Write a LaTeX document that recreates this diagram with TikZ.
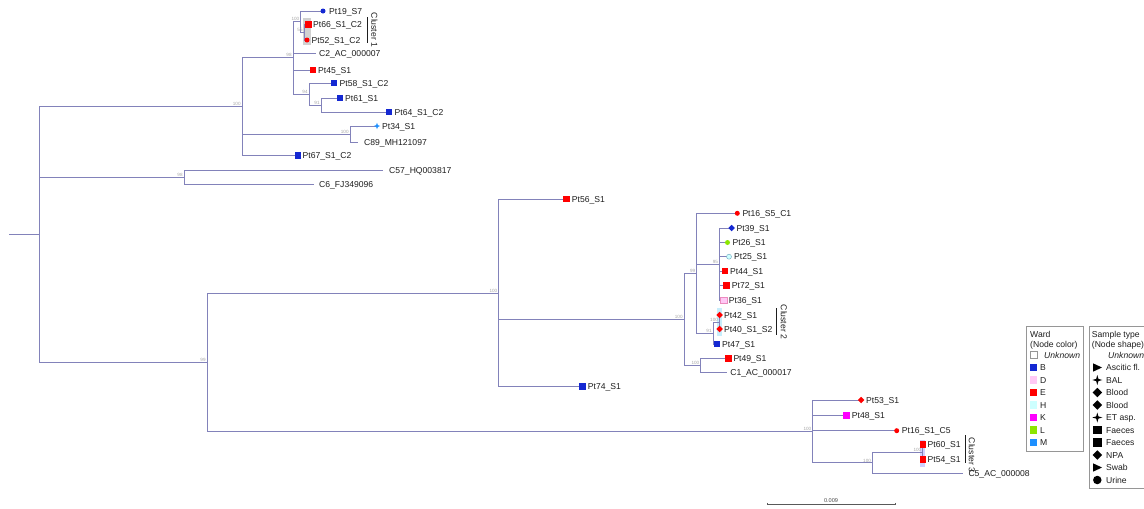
\documentclass[tikz,border=0pt]{standalone}
\usepackage{fontspec}
\setmainfont{Liberation Sans}
\usetikzlibrary{shapes.geometric}
\definecolor{brc}{RGB}{130,130,186}
\definecolor{txc}{RGB}{30,30,30}
\definecolor{bsc}{RGB}{165,165,165}
\definecolor{wB}{RGB}{20,40,210}
\definecolor{wD}{RGB}{255,200,245}
\definecolor{wE}{RGB}{255,0,0}
\definecolor{wH}{RGB}{205,255,255}
\definecolor{wK}{RGB}{255,0,255}
\definecolor{wL}{RGB}{140,230,0}
\definecolor{wM}{RGB}{30,144,255}
\definecolor{legc}{RGB}{150,150,150}
\newcommand\tipfont{\fontsize{8.6}{10}\selectfont}
\newcommand\bsfont{\fontsize{4.6}{5}\selectfont}
\newcommand\tipm[5]{\node[#2,fill=#3] (m#1) at (#1) {};\node[tip,xshift=#5] (l#1) at (#1) {#4};}
\newcommand\tipl[3]{\node[tip,xshift=#3] (l#1) at (#1) {#2};}
\newcommand\bsl[2]{\node[bs] (b#1) at (#1) {#2};}
\tikzset{
  brl/.style={draw=brc,line width=0.95pt},
  tip/.style={anchor=base west,inner sep=0,yshift=-3.1pt,font=\tipfont,text=txc},
  bs/.style={anchor=south east,inner sep=0.4pt,xshift=-0.8pt,font=\bsfont,text=bsc},
  mk/.style={inner sep=0,outer sep=0,draw=none},
  msq/.style={mk,rectangle,minimum size=6.5pt},
  mci/.style={mk,circle,minimum size=5pt},
  mdi/.style={mk,diamond,minimum size=6.5pt},
  mst/.style={mk,star,star points=4,star point ratio=2.6,minimum size=6.5pt},
  legt/.style={anchor=base west,inner sep=0,yshift=-3.1pt,font=\tipfont,text=txc},
  legbox/.style={draw=legc,line width=0.6pt},
  cbar/.style={draw=txc,line width=0.7pt},
  clab/.style={rotate=-90,inner sep=0,font=\tipfont,text=txc},
}
\begin{document}
\begin{tikzpicture}[x=1pt,y=-1pt]
\useasboundingbox (0,0) rectangle (1144,509);
\clip (0,0) rectangle (1144,509);
% highlight boxes
\fill[black!18] (302.7,18) rectangle (310.7,45);
\fill[cyan!22] (716.7,307.7) rectangle (721.7,336);
\fill[blue!18] (920,440) rectangle (925.3,466.7);
% coordinates
\coordinate (r0) at (9,234.5);
\coordinate (n0) at (39,234.5);
\coordinate (nA) at (242,106.5);
\coordinate (n98) at (293,57.5);
\coordinate (n100a) at (300.7,21.5);
\coordinate (n5) at (304,32);
\coordinate (tPt19) at (323,11);
\coordinate (tPt66) at (308.5,24.5);
\coordinate (tPt52) at (307,40);
\coordinate (tC2) at (316,53.5);
\coordinate (tPt45) at (313,70);
\coordinate (n94) at (309,94);
\coordinate (tPt58) at (334,83);
\coordinate (n91a) at (321,105);
\coordinate (tPt61) at (340,98);
\coordinate (tPt64) at (389,112);
\coordinate (n100g) at (350,134);
\coordinate (tPt34) at (377,126);
\coordinate (tC89) at (358,142);
\coordinate (tPt67) at (298,155.5);
\coordinate (nCD) at (184,177.5);
\coordinate (tC57) at (383,170);
\coordinate (tC6) at (314,184.3);
\coordinate (nB) at (207,362.5);
\coordinate (n100b) at (498.7,293);
\coordinate (tPt56) at (566.7,199);
\coordinate (n100c) at (684,319.5);
\coordinate (n99) at (696.7,273.3);
\coordinate (tPt16a) at (737.3,213.3);
\coordinate (n95) at (719.3,264);
\coordinate (tPt39) at (731.5,228);
\coordinate (tPt26) at (727.5,242.5);
\coordinate (tPt25) at (729,256.7);
\coordinate (tPt44) at (725,271);
\coordinate (tPt72) at (726.7,285.7);
\coordinate (tPt36) at (723.7,300);
\coordinate (n91b) at (713,333);
\coordinate (n100h) at (719.3,322);
\coordinate (tPt42) at (719.5,315);
\coordinate (tPt40) at (719.5,329);
\coordinate (tPt47) at (717,344);
\coordinate (n100d) at (700.7,365.5);
\coordinate (tPt49) at (728.3,358.3);
\coordinate (tC1) at (726.7,372.7);
\coordinate (tPt74) at (582.7,386.7);
\coordinate (n813) at (812.7,431.5);
\coordinate (tPt53) at (861,400);
\coordinate (tPt48) at (846.7,415.7);
\coordinate (tPt16b) at (896.7,430.7);
\coordinate (n100e) at (872.3,462.8);
\coordinate (n100f) at (922.7,452);
\coordinate (tPt60) at (923,444.3);
\coordinate (tPt54) at (923,459.3);
\coordinate (tC5) at (963.3,473.3);
% branches
\draw[brl] (r0) -- (n0);
\foreach \p/\c in {n0/nA,n0/nCD,n0/nB,
  nA/n98,nA/n100g,nA/tPt67,
  n98/n100a,n98/tC2,n98/tPt45,n98/n94,
  n100a/tPt19,n100a/n5,n5/tPt66,n5/tPt52,
  n94/tPt58,n94/n91a,n91a/tPt61,n91a/tPt64,
  n100g/tPt34,n100g/tC89,nCD/tC57,nCD/tC6,
  nB/n100b,nB/n813,
  n100b/tPt56,n100b/n100c,n100b/tPt74,
  n100c/n99,n100c/n100d,
  n99/tPt16a,n99/n95,n99/n91b,
  n95/tPt39,n95/tPt26,n95/tPt25,n95/tPt44,n95/tPt72,n95/tPt36,
  n91b/n100h,n91b/tPt47,n100h/tPt42,n100h/tPt40,
  n100d/tPt49,n100d/tC1,
  n813/tPt53,n813/tPt48,n813/tPt16b,n813/n100e,
  n100e/n100f,n100e/tC5,n100f/tPt60,n100f/tPt54}
  {\draw[brl] (\p) |- (\c);}
% bootstrap labels
\bsl{nA}{100}\bsl{n98}{98}\bsl{n100a}{100}\bsl{n5}{55}
\bsl{n94}{94}\bsl{n91a}{91}\bsl{n100g}{100}\bsl{nCD}{98}\bsl{nB}{99}
\bsl{n100b}{100}\bsl{n100c}{100}\bsl{n99}{99}\bsl{n95}{95}\bsl{n91b}{91}
\bsl{n100h}{100}\bsl{n100d}{100}\bsl{n813}{100}\bsl{n100e}{100}\bsl{n100f}{100}
% tips
\tipm{tPt19}{mci}{wB}{Pt19\_S7}{6pt}
\tipm{tPt66}{msq}{wE}{Pt66\_S1\_C2}{4.5pt}
\tipm{tPt52}{mci}{wE}{Pt52\_S1\_C2}{4.5pt}
\tipl{tC2}{C2\_AC\_000007}{3pt}
\tipm{tPt45}{msq}{wE}{Pt45\_S1}{5pt}
\tipm{tPt58}{msq}{wB}{Pt58\_S1\_C2}{5.5pt}
\tipm{tPt61}{msq}{wB}{Pt61\_S1}{5pt}
\tipm{tPt64}{msq}{wB}{Pt64\_S1\_C2}{5.5pt}
\tipm{tPt34}{mst}{wM}{Pt34\_S1}{5pt}
\tipl{tC89}{C89\_MH121097}{6pt}
\tipm{tPt67}{msq}{wB}{Pt67\_S1\_C2}{4.5pt}
\tipl{tC57}{C57\_HQ003817}{6pt}
\tipl{tC6}{C6\_FJ349096}{5pt}
\tipm{tPt56}{msq}{wE}{Pt56\_S1}{5pt}
\tipm{tPt16a}{mci}{wE}{Pt16\_S5\_C1}{5pt}
\tipm{tPt39}{mdi}{wB}{Pt39\_S1}{5pt}
\tipm{tPt26}{mci}{wL}{Pt26\_S1}{5pt}
\node[mci,fill=wH,draw=cyan!45!gray,line width=0.4pt] (mtPt25) at (tPt25) {};
\node[tip,xshift=5pt] (ltPt25) at (tPt25) {Pt25\_S1};
\tipm{tPt44}{msq}{wE}{Pt44\_S1}{5pt}
\tipm{tPt72}{msq}{wE}{Pt72\_S1}{5pt}
\node[msq,fill=wD,draw=wD!70!purple,line width=0.3pt] (mtPt36) at (tPt36) {};
\node[tip,xshift=5pt] (ltPt36) at (tPt36) {Pt36\_S1};
\tipm{tPt42}{mdi}{wE}{Pt42\_S1}{4.5pt}
\tipm{tPt40}{mdi}{wE}{Pt40\_S1\_S2}{4.5pt}
\tipm{tPt47}{msq}{wB}{Pt47\_S1}{5pt}
\tipm{tPt49}{msq}{wE}{Pt49\_S1}{5pt}
\tipl{tC1}{C1\_AC\_000017}{3.5pt}
\tipm{tPt74}{msq}{wB}{Pt74\_S1}{5pt}
\tipm{tPt53}{mdi}{wE}{Pt53\_S1}{5pt}
\tipm{tPt48}{msq}{wK}{Pt48\_S1}{5pt}
\tipm{tPt16b}{mci}{wE}{Pt16\_S1\_C5}{5pt}
\tipm{tPt60}{msq}{wE}{Pt60\_S1}{4.5pt}
\tipm{tPt54}{msq}{wE}{Pt54\_S1}{4.5pt}
\tipl{tC5}{C5\_AC\_000008}{5pt}
% cluster marks
\coordinate (c1a) at (367,17); \coordinate (c1b) at (367,43);
\draw[cbar] (c1a) -- (c1b);
\node[clab] (cl1) at (374.5,30) {Cluster 1};
\coordinate (c2a) at (776.7,308); \coordinate (c2b) at (776.7,335);
\draw[cbar] (c2a) -- (c2b);
\node[clab] (cl2) at (784,322) {Cluster 2};
\coordinate (c3a) at (965,435); \coordinate (c3b) at (965,463.3);
\draw[cbar] (c3a) -- (c3b);
\node[clab] (cl3) at (972,455) {Cluster 3};
% scale bar
\coordinate (sa) at (767.7,504); \coordinate (sb) at (895,504);
\draw[draw=black!65,line width=0.6pt] (sa) -- (sb);
\draw[draw=black!65,line width=0.5pt] ([yshift=1.2pt]sa) -- ([yshift=-1.2pt]sa);
\draw[draw=black!65,line width=0.5pt] ([yshift=1.2pt]sb) -- ([yshift=-1.2pt]sb);
\node[anchor=south,inner sep=0.5pt,font=\fontsize{5.6}{6}\selectfont,text=black!70] (slab) at (831,503.5) {0.009};
% legend: ward
\draw[legbox] (1026.7,326.7) rectangle (1083.3,451.7);
\node[legt] (w0) at (1030,334) {Ward};
\node[legt] (w1) at (1030,344.5) {(Node color)};
\node[mk,rectangle,minimum size=7pt,fill=white,draw=legc,line width=0.4pt] (ws0) at (1033.6,355) {};
\node[legt] (wt0) at (1044,355) {\itshape Unknown};
\foreach \c/\t [count=\i] in {wB/B,wD/D,wE/E,wH/H,wK/K,wL/L,wM/M}{
  \node[mk,rectangle,minimum size=7.3pt,fill=\c] (ws\i) at (1033.6,355+12.5*\i) {};
  \node[legt] (wt\i) at (1040,355+12.5*\i) {\t};
}
% legend: sample type
\draw[legbox] (1089.3,326.7) rectangle (1150,488.3);
\node[legt] (s0) at (1091.7,334) {Sample type};
\node[legt] (s1) at (1091.7,344.5) {(Node shape)};
\node[legt] (st0) at (1108,355) {\itshape Unknown};
\fill[black] (1093,363.3) -- (1102,367.5) -- (1093,371.7) -- cycle;
\node[legt] (st1) at (1106,367.5) {Ascitic fl.};
\node[mk,star,star points=4,star point ratio=3.2,minimum size=10pt,fill=black] (ss2) at (1097.3,380) {};
\node[legt] (st2) at (1106,380) {BAL};
\node[mk,diamond,minimum size=9.5pt,fill=black] (ss3) at (1097.3,392.5) {};
\node[legt] (st3) at (1106,392.5) {Blood};
\node[mk,diamond,minimum size=9.5pt,fill=black] (ss4) at (1097.3,405) {};
\node[legt] (st4) at (1106,405) {Blood};
\node[mk,star,star points=4,star point ratio=3.2,minimum size=10pt,fill=black] (ss5) at (1097.3,417.5) {};
\node[legt] (st5) at (1106,417.5) {ET asp.};
\node[mk,rectangle,minimum size=8.5pt,fill=black] (ss6) at (1097.3,430) {};
\node[legt] (st6) at (1106,430) {Faeces};
\node[mk,rectangle,minimum size=8.5pt,fill=black] (ss7) at (1097.3,442.5) {};
\node[legt] (st7) at (1106,442.5) {Faeces};
\node[mk,diamond,minimum size=9.5pt,fill=black] (ss8) at (1097.3,455) {};
\node[legt] (st8) at (1106,455) {NPA};
\fill[black] (1093,463.3) -- (1102,467.5) -- (1093,471.7) -- cycle;
\node[legt] (st9) at (1106,467.5) {Swab};
\node[mk,circle,minimum size=8.5pt,fill=black] (ss10) at (1097.3,480) {};
\node[legt] (st10) at (1106,480) {Urine};
\end{tikzpicture}
\end{document}
